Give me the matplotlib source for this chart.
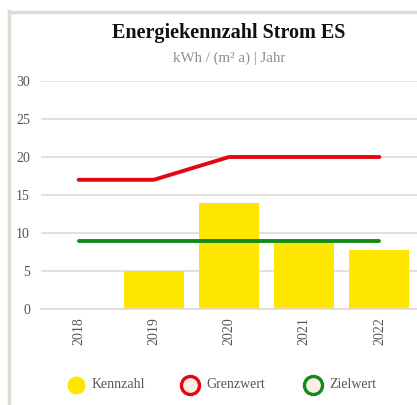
import matplotlib
matplotlib.use("Agg")
import matplotlib.pyplot as plt
from matplotlib.lines import Line2D
import numpy as np

years = ["2018", "2019", "2020", "2021", "2022"]
kennzahl = [0, 5, 13.9, 9, 7.8]
grenzwert = [17, 17, 20, 20, 20]
zielwert = [9, 9, 9, 9, 9]

plt.rcParams["font.family"] = ["Liberation Serif", "DejaVu Serif"]

W, H = 417, 405
fig = plt.figure(figsize=(W / 100, H / 100), dpi=100)
fig.patch.set_facecolor("white")

# outer frame lines (left and top)
fig.add_artist(Line2D([8.5 / W, 8.5 / W], [0, 1 - 11 / H], color="#dedbd3", lw=2.5))
fig.add_artist(Line2D([8.5 / W, 1], [1 - 12 / H, 1 - 12 / H], color="#dedbd3", lw=2.5))

ax = fig.add_axes([41 / W, 1 - 309 / H, (417 - 41) / W, (309 - 81) / H])
x = np.arange(len(years))

ax.bar(x, kennzahl, width=0.8, color="#ffe600", zorder=2)
ax.plot(x, grenzwert, color="#e30613", lw=2.8, zorder=3, solid_capstyle="round")
ax.plot(x, zielwert, color="#13891a", lw=2.8, zorder=3, solid_capstyle="round")

ax.set_xlim(-0.5, len(years) - 0.5)
ax.set_ylim(0, 30)
ax.set_yticks([0, 5, 10, 15, 20, 25, 30])
ax.yaxis.grid(True, color="#e0dcd3", lw=1.2, zorder=0)
ax.set_axisbelow(True)
for s in ["top", "right", "left"]:
    ax.spines[s].set_visible(False)
ax.spines["bottom"].set_color("#e0dcd3")
ax.spines["bottom"].set_linewidth(1.2)
ax.tick_params(axis="y", length=0, pad=8, labelsize=10, labelcolor="#555555")
ax.tick_params(axis="x", length=0, pad=6, labelsize=10, labelcolor="#555555")
ax.set_xticks(x)
ax.set_xticklabels(years, rotation=90)

fig.text(229 / W, 1 - 33 / H, "Energiekennzahl Strom ES", ha="center", va="center",
         fontsize=14.5, fontweight="bold", color="#111111")
fig.text(229 / W, 1 - 58 / H, "kWh / (m² a) | Jahr", ha="center", va="center",
         fontsize=10.8, color="#8f8f8f")

# legend
leg_y = 1 - 385 / H
items = [(76, "Kennzahl", "#ffe600", "#ffe600"),
         (190, "Grenzwert", "#fbeee4", "#e30613"),
         (313, "Zielwert", "#fbeee4", "#13891a")]
for px, label, fc, ec in items:
    fig.add_artist(Line2D([px / W], [leg_y], marker="o", markersize=13,
                          markerfacecolor=fc, markeredgecolor=ec,
                          markeredgewidth=2.4 if fc != ec else 0, linestyle="none"))
    fig.text((px + 16) / W, leg_y, label, ha="left", va="center",
             fontsize=10, color="#555555")

fig.savefig("out.png", dpi=100)
